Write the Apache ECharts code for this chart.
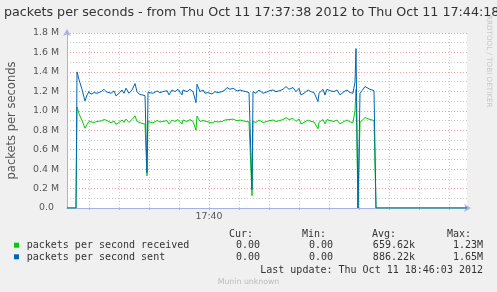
<!DOCTYPE html>
<html>
<head>
<meta charset="utf-8">
<script src="https://cdn.jsdelivr.net/npm/echarts@6/dist/echarts.min.js"></script>
<style>
html,body{margin:0;padding:0;background:#f0f0f0;}
#c{width:497px;height:292px;}
</style>
</head>
<body>
<div id="c"></div>
<script>
// seconds after 17:37:38 (chart spans 400 s, to 17:44:18)
const tSec = [0, 9, 10, 12, 15, 18, 19, 20, 22, 24, 27, 30, 34, 37, 39, 40, 44, 47, 49, 52, 55, 57, 59, 62, 65, 68, 70, 72, 75, 78, 80, 81,
  83, 86, 90, 93, 96, 100, 102, 105, 108, 111, 115, 116, 120, 123, 126, 129, 130, 133, 136, 138, 141, 145, 148, 151, 155, 158, 160, 163, 166, 170,
  173, 176, 179, 182, 184, 185, 186, 189, 192, 196, 199, 202, 206, 209, 212, 216, 219, 222, 226, 229, 232, 234, 237, 241, 244, 247, 251, 252, 256,
  258, 260, 263, 267, 270, 273, 277, 280, 283, 286, 288, 289, 291, 293, 295, 298, 300, 303, 307, 308, 309, 400];
// packets per second sent (millions)
const sentM = [0, 0, 1.40, 1.32, 1.22, 1.10, 1.095, 1.163, 1.197, 1.17, 1.187, 1.18, 1.197, 1.221, 1.197, 1.214, 1.18, 1.204, 1.153, 1.18, 1.214, 1.18, 1.232, 1.18, 1.214, 1.28, 1.197, 1.173, 1.163, 1.156, 0.36, 1.19,
  1.19, 1.18, 1.204, 1.187, 1.197, 1.207, 1.163, 1.214, 1.197, 1.221, 1.163, 1.214, 1.197, 1.221, 1.197, 1.084, 1.273, 1.197, 1.214, 1.18, 1.187, 1.173, 1.197, 1.187, 1.197, 1.214, 1.239, 1.221, 1.232, 1.204,
  1.214, 1.204, 1.197, 1.187, 1.197, 0.19, 1.197, 1.18, 1.214, 1.18, 1.19, 1.204, 1.214, 1.197, 1.204, 1.221, 1.249, 1.221, 1.239, 1.197, 1.232, 1.163, 1.18, 1.214, 1.197, 1.187, 1.095, 1.18, 1.221,
  1.163, 1.221, 1.207, 1.197, 1.214, 1.163, 1.197, 1.214, 1.187, 1.18, 1.30, 1.64, 0, 1.18, 1.207, 1.249, 1.232, 1.221, 1.207, 1.197, 0, 0];
// packets per second received (millions)
const recvM = [0, 0, 1.04, 0.97, 0.90, 0.82, 0.81, 0.86, 0.89, 0.875, 0.88, 0.89, 0.895, 0.91, 0.89, 0.90, 0.875, 0.895, 0.86, 0.88, 0.905, 0.88, 0.915, 0.88, 0.91, 0.948, 0.89, 0.872, 0.87, 0.862, 0.33, 0.89,
  0.89, 0.875, 0.90, 0.885, 0.89, 0.90, 0.865, 0.905, 0.89, 0.91, 0.865, 0.905, 0.89, 0.91, 0.89, 0.80, 0.945, 0.89, 0.90, 0.88, 0.885, 0.875, 0.89, 0.885, 0.89, 0.905, 0.92, 0.91, 0.915, 0.897,
  0.905, 0.897, 0.89, 0.885, 0.89, 0.127, 0.89, 0.88, 0.905, 0.88, 0.887, 0.897, 0.905, 0.89, 0.897, 0.91, 0.93, 0.91, 0.922, 0.89, 0.917, 0.865, 0.88, 0.905, 0.89, 0.885, 0.815, 0.88, 0.91,
  0.865, 0.91, 0.90, 0.89, 0.905, 0.865, 0.89, 0.905, 0.885, 0.88, 1.00, 1.22, 0, 0.88, 0.90, 0.93, 0.917, 0.91, 0.90, 0.89, 0, 0];
// vertical grid: every 30 s from 17:38:00; 17:40 is the major one
const xGridSec = [22, 52, 82, 112, 172, 202, 232, 262, 292, 322, 352, 382];
const xMajorSec = 142;
const xMajorLabel = '17:40';

const legendNames = ['packets per second received', 'packets per second sent'];
const legendColors = ['#00cc00', '#0066b3'];
const curVals = ['0.00', '0.00'];
const minVals = ['0.00', '0.00'];
const avgVals = ['659.62k', '886.22k'];
const maxVals = ['1.23M', '1.65M'];

const chart = echarts.init(document.getElementById('c'));
const mono = 'DejaVu Sans Mono';
const txtCol = '#333';
const graphics = [];
function t(x, y, text, align, extra) {
  graphics.push({type: 'text', x: x, y: y, silent: true, style: Object.assign({text: text, fill: txtCol, font: '10px "' + mono + '"', textAlign: align, textVerticalAlign: 'middle'}, extra || {})});
}
t(253, 234.3, 'Cur:', 'right'); t(326, 234.3, 'Min:', 'right'); t(396, 234.3, 'Avg:', 'right'); t(471, 234.3, 'Max:', 'right');
const rowY = [245.7, 257.3];
for (let i = 0; i < 2; i++) {
  graphics.push({type: 'rect', silent: true, shape: {x: 14, y: rowY[i] - 3, width: 5, height: 5}, style: {fill: legendColors[i]}});
  t(26.7, rowY[i], legendNames[i], 'left');
  t(260, rowY[i], curVals[i], 'right');
  t(333, rowY[i], minVals[i], 'right');
  t(415, rowY[i], avgVals[i], 'right');
  t(483, rowY[i], maxVals[i], 'right');
}
t(483, 270, 'Last update: Thu Oct 11 18:46:03 2012', 'right');
t(248.5, 281.7, 'Munin unknown', 'center', {fill: '#bbbbbb', font: '7.8px "DejaVu Sans"'});
graphics.push({type: 'text', silent: true, x: 489, y: 15, rotation: -Math.PI / 2,
  style: {text: 'RRDTOOL / TOBI OETIKER', fill: '#c8c8c8', font: '7.2px "DejaVu Sans"', textAlign: 'left', textVerticalAlign: 'middle'}});

const gridLineData = xGridSec.map(v => ({xAxis: v, lineStyle: {color: '#c8c8c8', type: [1, 2], width: 1}}));
gridLineData.push({xAxis: xMajorSec, lineStyle: {color: '#eaa0a0', type: [1, 2], width: 1}});

chart.setOption({
  animation: false,
  backgroundColor: '#f0f0f0',
  textStyle: {fontFamily: 'DejaVu Sans'},
  title: {text: 'packets per seconds - from Thu Oct 11 17:37:38 2012 to Thu Oct 11 17:44:18', left: 4, top: 6, padding: 0,
    textStyle: {fontSize: 12.7, fontWeight: 'normal', color: '#333', fontFamily: 'DejaVu Sans'}},
  grid: {left: 67, right: 30, top: 33, bottom: 84, show: true, backgroundColor: '#ffffff', borderWidth: 0, containLabel: false, outerBoundsMode: 'none'},
  xAxis: {
    type: 'value', min: 0, max: 400,
    splitLine: {show: false},
    axisLine: {show: true, lineStyle: {color: '#a8b0e8', width: 1}, symbol: ['none', 'arrow'], symbolSize: [6, 7], symbolOffset: [0, 4]},
    axisTick: {show: true, customValues: xGridSec.concat([xMajorSec]), length: 2, inside: false, lineStyle: {color: '#a8b0e8'}},
    axisLabel: {customValues: [xMajorSec], formatter: () => xMajorLabel, fontSize: 9.4, color: '#555', margin: 4, fontFamily: 'DejaVu Sans'}
  },
  yAxis: {
    type: 'value', min: 0, max: 1.8, interval: 0.2,
    name: 'packets per seconds', nameLocation: 'middle', nameGap: 49,
    nameTextStyle: {fontSize: 11.5, color: '#555', fontFamily: 'DejaVu Sans'},
    axisLine: {show: true, lineStyle: {color: '#a8b0e8', width: 1}, symbol: ['none', 'arrow'], symbolSize: [6, 7], symbolOffset: [0, 4]},
    axisTick: {show: false},
    axisLabel: {fontSize: 9.4, color: '#555', margin: 8, fontFamily: 'DejaVu Sans',
      formatter: v => (v === 0 ? '{z|0.0}' : v.toFixed(1) + ' M'),
      rich: {z: {fontSize: 9.4, color: '#555', padding: [0, 5, 0, 0], fontFamily: 'DejaVu Sans'}}},
    splitLine: {show: true, lineStyle: {color: '#eaa0a0', type: [1, 2], width: 1}},
    minorTick: {show: false, splitNumber: 2},
    minorSplitLine: {show: true, lineStyle: {color: '#c8c8c8', type: [1, 2], width: 1}}
  },
  series: [
    {type: 'line', z: 1, data: [], silent: true,
      markLine: {z: 1, silent: true, symbol: ['none', 'none'], label: {show: false}, animation: false, data: gridLineData}},
    {type: 'line', name: legendNames[0], z: 3, showSymbol: false, symbol: 'none', silent: true,
      lineStyle: {color: legendColors[0], width: 1}, data: tSec.map((s, i) => [s, recvM[i]])},
    {type: 'line', name: legendNames[1], z: 4, showSymbol: false, symbol: 'none', silent: true,
      lineStyle: {color: legendColors[1], width: 1}, data: tSec.map((s, i) => [s, sentM[i]])}
  ],
  graphic: graphics
});
</script>
</body>
</html>
